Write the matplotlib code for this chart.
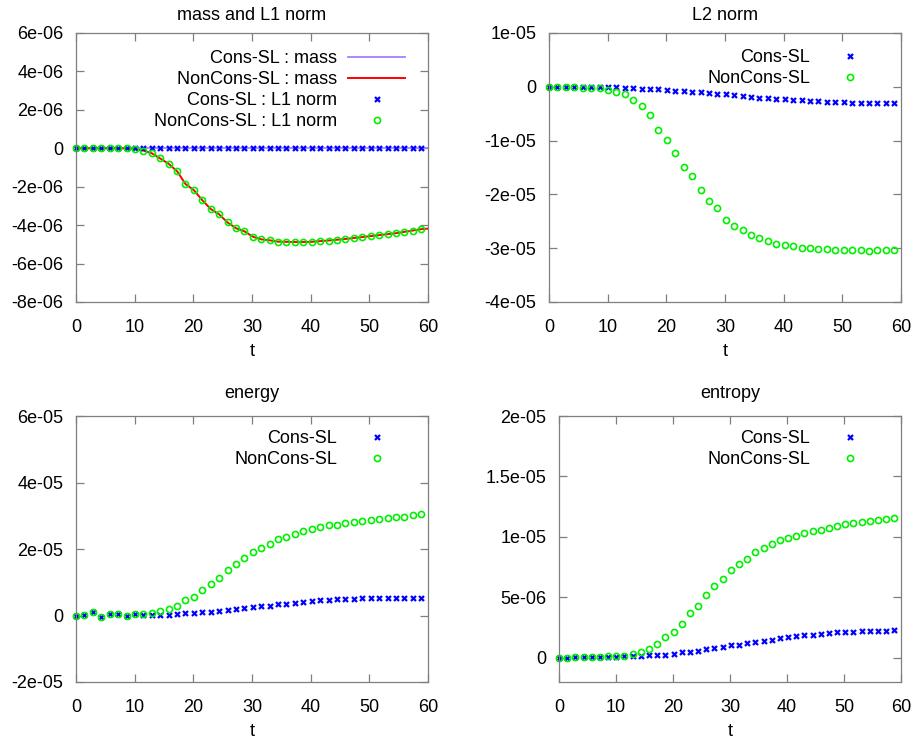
import matplotlib
matplotlib.use("Agg")
import matplotlib.pyplot as plt
from matplotlib.ticker import FormatStrFormatter, MultipleLocator
from matplotlib.transforms import ScaledTranslation

plt.rcParams['font.family'] = ['Liberation Sans', 'DejaVu Sans']
FS = 13
plt.rcParams['font.size'] = FS

# time samples
t = [0.0, 1.44, 2.87, 4.31, 5.74, 7.18, 8.61, 10.05, 11.48, 12.92, 14.35,
     15.79, 17.22, 18.66, 20.09, 21.53, 22.96, 24.4, 25.83, 27.27, 28.7,
     30.14, 31.57, 33.01, 34.44, 35.88, 37.31, 38.75, 40.18, 41.62, 43.05,
     44.49, 45.92, 47.36, 48.79, 50.23, 51.66, 53.1, 54.53, 55.97, 57.4, 58.84]

# mass and L1 norm (units 1e-6)
noncons_l1 = [0, 0, 0, 0, 0, 0, 0, -0.04, -0.12, -0.26, -0.53, -0.81, -1.19,
              -1.86, -2.18, -2.70, -3.16, -3.44, -3.86, -4.16, -4.32, -4.60,
              -4.74, -4.79, -4.86, -4.87, -4.88, -4.88, -4.87, -4.83, -4.80,
              -4.76, -4.72, -4.67, -4.62, -4.57, -4.52, -4.47, -4.42, -4.35,
              -4.28, -4.21]
cons_l1 = [0.0] * 42
t_mass = t + [60.0]
noncons_mass = noncons_l1 + [-4.18]
cons_mass = [0.0] * 43

# L2 norm (units 1e-6)
cons_l2 = [0, -0.01, -0.02, -0.02, -0.03, -0.03, -0.04, -0.06, -0.12, -0.19,
           -0.28, -0.33, -0.42, -0.5, -0.62, -0.73, -0.82, -0.94, -1.05,
           -1.13, -1.26, -1.43, -1.6, -1.76, -1.9, -2.0, -2.08, -2.23, -2.32,
           -2.4, -2.54, -2.62, -2.69, -2.75, -2.81, -2.87, -2.93, -2.98,
           -3.0, -3.02, -3.04, -3.07]
noncons_l2 = [0, -0.06, -0.12, -0.12, -0.19, -0.19, -0.25, -0.56, -0.88,
              -1.25, -2.5, -3.63, -5.31, -8.06, -9.81, -12.25, -15.0, -16.63,
              -19.25, -21.25, -22.56, -24.69, -25.81, -26.56, -27.63, -28.19,
              -28.63, -29.13, -29.38, -29.63, -29.88, -30.0, -30.13, -30.19,
              -30.25, -30.38, -30.38, -30.38, -30.44, -30.38, -30.38, -30.38]

# energy (units 1e-6)
noncons_energy = [0, 0.2, 1.1, -0.5, 0.4, 0.4, -0.1, 0.4, 0.5, 0.7, 1.4, 1.9,
                  2.9, 4.6, 5.5, 7.7, 9.6, 11.2, 13.6, 15.5, 17.2, 19.1, 20.4,
                  21.6, 23.0, 23.7, 24.5, 25.5, 26.0, 26.6, 27.1, 27.3, 27.9,
                  28.2, 28.4, 28.7, 29.0, 29.3, 29.5, 29.7, 30.1, 30.4]
cons_energy = [0, 0.2, 1.1, -0.5, 0.4, 0.4, -0.1, 0.4, 0.1, 0.1, 0.3, 0.3,
               0.6, 0.7, 0.9, 1.0, 1.2, 1.4, 1.7, 2.0, 2.2, 2.5, 2.8, 3.0, 3.4,
               3.6, 3.9, 4.1, 4.4, 4.6, 4.8, 4.9, 5.0, 5.1, 5.2, 5.2, 5.3, 5.3,
               5.4, 5.4, 5.4, 5.4]

# entropy (units 1e-6)
noncons_entropy = [0, 0, 0.03, 0.05, 0.05, 0.08, 0.11, 0.14, 0.19, 0.33, 0.52,
                   0.74, 1.15, 1.73, 2.17, 2.83, 3.71, 4.26, 5.16, 5.91, 6.48,
                   7.28, 7.77, 8.19, 8.76, 9.07, 9.40, 9.75, 9.95, 10.11, 10.33,
                   10.47, 10.60, 10.74, 10.93, 11.04, 11.15, 11.24, 11.32, 11.40,
                   11.48, 11.59]
cons_entropy = [0, 0, 0.03, 0.03, 0.05, 0.05, 0.08, 0.08, 0.11, 0.16, 0.19,
                0.22, 0.25, 0.27, 0.33, 0.44, 0.52, 0.60, 0.71, 0.80, 0.88,
                1.02, 1.10, 1.21, 1.32, 1.43, 1.51, 1.62, 1.70, 1.79, 1.87,
                1.92, 2.01, 2.06, 2.12, 2.14, 2.17, 2.20, 2.23, 2.25, 2.25, 2.31]

titles = ["mass and L1 norm", "L2 norm", "energy", "entropy"]
xticks = [0, 10, 20, 30, 40, 50, 60]

BLUE = '#0000ff'
GREEN = '#00f000'
RED = '#ff0000'
PURPLE = '#a080ff'
FRAME = '#7f7f7f'

W, H = 919, 739
DPI = 100
fig = plt.figure(figsize=(W / DPI, H / DPI), dpi=DPI)


def make_axes(l, r, top, bot):
    return fig.add_axes([l / W, 1 - bot / H, (r - l) / W, (bot - top) / H])


boxes = [(76, 428, 33, 302), (549, 901, 33, 302),
         (76, 428, 416, 682), (559, 901, 416, 682)]
axs = [make_axes(*b) for b in boxes]
title_pads = [9.4, 9.4, 13.0, 13.0]
legend_dy = [17, 16, 14, 14]

e6 = 1e-6


def scale(v):
    return [x * e6 for x in v]


xkw = dict(ls='none', marker='x', ms=3.6, mew=1.6, color=BLUE, clip_on=False)
okw = dict(ls='none', marker='o', ms=4.4, mew=1.2, mfc='none', mec=GREEN,
           clip_on=False)

ax = axs[0]
ax.plot(t_mass, scale(cons_mass), color=PURPLE, lw=1.3, label='Cons-SL : mass')
ax.plot(t_mass, scale(noncons_mass), color=RED, lw=1.4, label='NonCons-SL : mass')
ax.plot(t, scale(cons_l1), label='Cons-SL : L1 norm', **xkw)
ax.plot(t, scale(noncons_l1), label='NonCons-SL : L1 norm', **okw)
ax.set_ylim(-8e-6, 6e-6)
ax.yaxis.set_major_locator(MultipleLocator(2e-6))

ax = axs[1]
ax.plot(t, scale(cons_l2), label='Cons-SL', **xkw)
ax.plot(t, scale(noncons_l2), label='NonCons-SL', **okw)
ax.set_ylim(-4e-5, 1e-5)
ax.yaxis.set_major_locator(MultipleLocator(1e-5))

ax = axs[2]
ax.plot(t, scale(cons_energy), label='Cons-SL', **xkw)
ax.plot(t, scale(noncons_energy), label='NonCons-SL', **okw)
ax.set_ylim(-2e-5, 6e-5)
ax.yaxis.set_major_locator(MultipleLocator(2e-5))

ax = axs[3]
ax.plot(t, scale(cons_entropy), label='Cons-SL', **xkw)
ax.plot(t, scale(noncons_entropy), label='NonCons-SL', **okw)
ax.set_ylim(-2e-6, 2e-5)
ax.set_yticks([0, 5e-6, 1e-5, 1.5e-5, 2e-5])

fs_px = FS * DPI / 72.0
for i, ax in enumerate(axs):
    ax.set_xlim(0, 60)
    ax.set_xticks(xticks)
    ax.yaxis.set_major_formatter(FormatStrFormatter('%g'))
    ax.set_title(titles[i], fontsize=FS, pad=title_pads[i])
    ax.set_xlabel('t', fontsize=FS, labelpad=5)
    for s in ax.spines.values():
        s.set_color(FRAME)
        s.set_linewidth(0.9)
    ax.tick_params(direction='in', length=6, width=0.9, color=FRAME,
                   top=True, right=True, labelsize=FS)
    ax.tick_params(axis='x', pad=12)
    ax.tick_params(axis='y', pad=9)
    off = ScaledTranslation(-23 / DPI, -legend_dy[i] / DPI, fig.dpi_scale_trans)
    ax.legend(loc='upper right', bbox_to_anchor=(1, 1),
              bbox_transform=ax.transAxes + off,
              frameon=False, markerfirst=False,
              handlelength=57 / fs_px, handletextpad=11 / fs_px,
              labelspacing=0.22, borderaxespad=0, borderpad=0,
              fontsize=FS, numpoints=1)

fig.savefig('out.png', dpi=DPI)
